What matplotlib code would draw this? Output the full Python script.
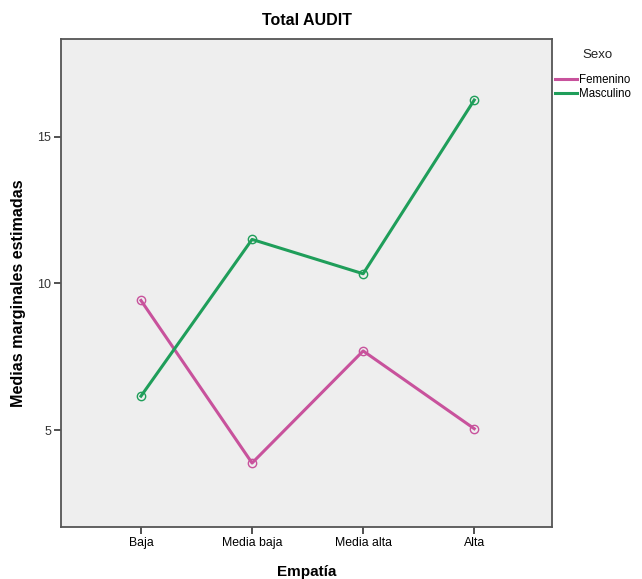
import matplotlib
matplotlib.use("Agg")
import matplotlib.pyplot as plt
from matplotlib.lines import Line2D

categories = ["Baja", "Media baja", "Media alta", "Alta"]
femenino = [9.42, 3.88, 7.70, 5.05]
masculino = [6.16, 11.50, 10.33, 16.25]
series_names = ["Femenino", "Masculino"]
yticks = [5, 10, 15]

plt.rcParams['font.family'] = ['Liberation Sans', 'DejaVu Sans']

fig = plt.figure(figsize=(6.42, 5.79), dpi=100)
ax = fig.add_axes([61/642, 1-527/579, (552-61)/642, (527-39)/579])
ax.set_facecolor('#eeeeee')

c_f = '#c8529c'
c_m = '#1f9e5a'
x = list(range(len(categories)))
ax.plot(x, femenino, color=c_f, lw=2.2, marker='o', ms=6, mfc='none', mec=c_f, mew=1.0, zorder=3)
ax.plot(x, masculino, color=c_m, lw=2.2, marker='o', ms=6, mfc='none', mec=c_m, mew=1.0, zorder=3)

ax.set_xlim(-0.72, 3.70)
ax.set_ylim(1.7, 18.33)
ax.set_xticks(x)
ax.set_xticklabels(categories, fontsize=8.8)
ax.set_yticks(yticks)
ax.set_yticklabels([str(t) for t in yticks], fontsize=9, color='#333333')
ax.tick_params(axis='both', length=5, width=1.2, color='#333333', pad=2)
for s in ax.spines.values():
    s.set_color('#555555')
    s.set_linewidth(1.3)

ax.set_title("Total AUDIT", fontsize=11.5, fontweight='bold', pad=10)
ax.set_xlabel("Empatía", fontsize=11, fontweight='bold', labelpad=12)
ax.set_ylabel("Medias marginales estimadas", fontsize=11.6, fontweight='bold')
ax.yaxis.set_label_coords(-0.071, 0.48)

fig.text(582/642, 1-55/579, "Sexo", fontsize=9.5, ha='left', va='center', color='#222222')
handles = [Line2D([0], [0], color=c_f, lw=2.2), Line2D([0], [0], color=c_m, lw=2.2)]
leg = fig.legend(handles, series_names, loc='upper left', bbox_to_anchor=(555/642, 1-74/579),
                 frameon=False, fontsize=8.3,
                 handlelength=1.9, handletextpad=0.15, labelspacing=0.2, borderaxespad=0,
                 borderpad=0)

fig.savefig("out.png", dpi=100)
